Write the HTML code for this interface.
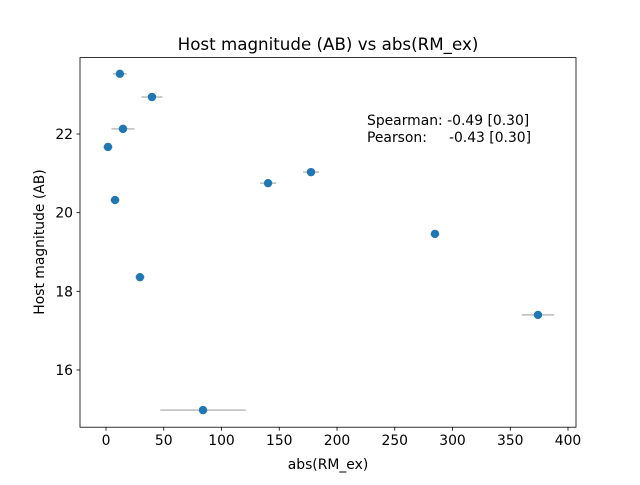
<!DOCTYPE html>
<html><head><meta charset="utf-8"><style>
body{margin:0;background:#fff;}
svg text{font-family:"DejaVu Sans","Liberation Sans",sans-serif;fill:#000;}
</style></head><body>
<svg id="chart" width="640" height="480">
<rect width="640" height="480" fill="#fff"/>
<text x="328" y="50" font-size="16.7" text-anchor="middle">Host magnitude (AB) vs abs(RM_ex)</text>
<g id="errs"></g><g id="pts"></g><g id="xt"></g><g id="yt"></g>
<rect x="80" y="57.6" width="496" height="369.6" fill="none" stroke="#000" stroke-width="0.8"/>
<text x="328" y="469" font-size="13.9" text-anchor="middle">abs(RM_ex)</text>
<text transform="translate(44,242) rotate(-90)" font-size="13.9" text-anchor="middle">Host magnitude (AB)</text>
<text x="367" y="125" font-size="13.9">Spearman: -0.49 [0.30]</text>
<text x="367" y="142" font-size="13.9" xml:space="preserve">Pearson:     -0.43 [0.30]</text>
</svg>
<script>
const xVals=[12,39.8,14.7,1.7,7.8,29.4,84,140.3,177.5,284.8,374];
const yVals=[23.53,22.94,22.13,21.67,20.32,18.36,14.98,20.75,21.03,19.46,17.40];
const xErr=[6,9,10,4,4,4,37,7,7,4,14];
const xTicks=[0,50,100,150,200,250,300,350,400];
const yTicks=[16,18,20,22];
const X=v=>106+v*1.155, Y=v=>134-(v-22)*39.33;
const NS="http://www.w3.org/2000/svg";
function mk(t,a,p){const e=document.createElementNS(NS,t);for(const k in a)e.setAttribute(k,a[k]);document.getElementById(p).appendChild(e);return e;}
xVals.forEach((x,i)=>{
 const l=mk('line',{x1:X(x-xErr[i]),x2:X(x+xErr[i]),y1:Y(yVals[i]),y2:Y(yVals[i]),stroke:'#bbb','stroke-width':1.5},'errs');
 
 
 const c=mk('circle',{cx:X(x),cy:Y(yVals[i]),r:4.2,fill:'#1f77b4'},'pts');
 
 
});
xTicks.forEach(t=>{
 const l=mk('line',{x1:X(t),x2:X(t),y1:427.2,y2:430.7,stroke:'#000','stroke-width':0.8},'xt');
 
 
 const s=mk('text',{x:X(t),y:445,'font-size':13.9,'text-anchor':'middle'},'xt');s.textContent=t;
 
 
});
yTicks.forEach(t=>{
 const l=mk('line',{x1:76.5,x2:80,y1:Y(t),y2:Y(t),stroke:'#000','stroke-width':0.8},'yt');
 
 
 const s=mk('text',{x:73,y:Y(t)+5,'font-size':13.9,'text-anchor':'end'},'yt');s.textContent=t;
 
 
});
</script>
</body></html>
